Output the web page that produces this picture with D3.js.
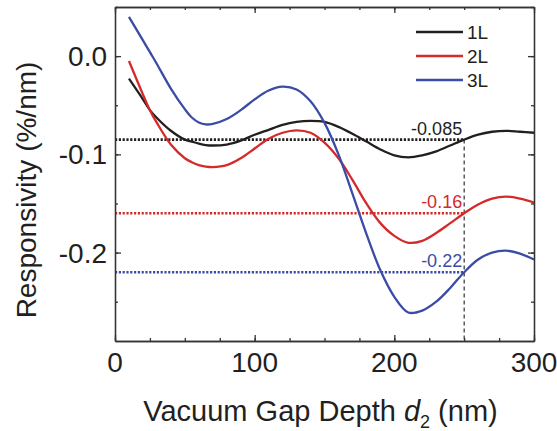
<!DOCTYPE html>
<meta charset="utf-8">
<style>
body { margin: 0; background: #fff; }
text { font-family: 'Liberation Sans', Arial, sans-serif; fill: #231f20; }
.axis path, .axis line { stroke: #333; stroke-width: 1.3; }
</style>
<div class="chart"></div>
<script src="https://d3js.org/d3.v7.min.js"></script>
<script>
// vacuum gap depth (nm) and responsivity (%/nm)
var depth = [10, 20, 25, 30, 40, 50, 55, 60, 65, 70, 80, 90, 100, 110, 120, 130, 140, 150, 160, 170, 180, 190, 200, 210, 220, 230, 240, 250, 260, 270, 280, 290, 300];
var resp1L = [-0.023, -0.044, -0.055, -0.063, -0.076, -0.085, -0.087, -0.089, -0.0905, -0.091, -0.090, -0.086, -0.080, -0.075, -0.070, -0.067, -0.066, -0.067, -0.072, -0.079, -0.087, -0.095, -0.101, -0.103, -0.101, -0.097, -0.091, -0.085, -0.080, -0.077, -0.076, -0.077, -0.078];
var resp2L = [-0.005, -0.039, -0.055, -0.068, -0.090, -0.104, -0.108, -0.111, -0.1125, -0.113, -0.111, -0.104, -0.094, -0.084, -0.078, -0.0755, -0.078, -0.088, -0.104, -0.126, -0.150, -0.170, -0.183, -0.190, -0.188, -0.180, -0.170, -0.160, -0.151, -0.145, -0.143, -0.145, -0.149];
var resp3L = [0.040, 0.016, 0.004, -0.008, -0.033, -0.054, -0.0625, -0.0675, -0.0695, -0.069, -0.064, -0.055, -0.044, -0.035, -0.031, -0.034, -0.046, -0.068, -0.100, -0.140, -0.181, -0.218, -0.245, -0.261, -0.259, -0.250, -0.236, -0.220, -0.207, -0.200, -0.198, -0.201, -0.207];

var seriesNames = ["1L", "2L", "3L"];
var seriesColors = ["#231f20", "#d42a2a", "#3a4ca6"];
var refValues = [-0.085, -0.16, -0.22];
var refLabels = ["-0.085", "-0.16", "-0.22"];
var refDepth = 250;

var xTicks = [0, 100, 200, 300];
var yTicks = [0.0, -0.1, -0.2];
var yTickLabels = ["0.0", "-0.1", "-0.2"];

var width = 557, height = 431;
var margin = { top: 7, right: 23, bottom: 90, left: 115 };

var x = d3.scaleLinear().domain([0, 300]).range([margin.left, width - margin.right]);
var y = d3.scaleLinear().domain([-0.29, 0.05]).range([height - margin.bottom, margin.top]);

var svg = d3.select(".chart").append("svg")
    .attr("width", width)
    .attr("height", height);

var series = [resp1L, resp2L, resp3L].map(function (vals, i) {
    return { name: seriesNames[i], color: seriesColors[i], ref: refValues[i], label: refLabels[i],
             points: depth.map(function (d, j) { return [d, vals[j]]; }) };
});

// reference dotted lines and labels
series.forEach(function (s) {
    svg.append("line")
        .attr("x1", x(0)).attr("x2", x(refDepth))
        .attr("y1", y(s.ref)).attr("y2", y(s.ref))
        .attr("stroke", s.color)
        .attr("stroke-width", 2.6)
        .attr("stroke-dasharray", "2.2,1.6");
    svg.append("text")
        .attr("x", x(refDepth) - 2)
        .attr("y", y(s.ref) - 5)
        .attr("text-anchor", "end")
        .style("font-size", "18px")
        .style("fill", s.color)
        .text(s.label);
});

svg.append("line")
    .attr("x1", x(refDepth)).attr("x2", x(refDepth))
    .attr("y1", y(refValues[0])).attr("y2", y(-0.29))
    .attr("stroke", "#231f20")
    .attr("stroke-width", 1.1)
    .attr("stroke-dasharray", "4,3");

var line = d3.line()
    .x(function (d) { return x(d[0]); })
    .y(function (d) { return y(d[1]); })
    .curve(d3.curveCatmullRom.alpha(0.5));

svg.selectAll(".curve")
    .data(series)
    .enter()
    .append("path")
    .attr("class", "curve")
    .attr("fill", "none")
    .attr("stroke", function (d) { return d.color; })
    .attr("stroke-width", 2.3)
    .attr("d", function (d) { return line(d.points); });

// axes: ticks point inward on all four sides
var minorX = d3.range(0, 301, 25);
var minorY = d3.range(-0.25, 0.051, 0.05);

function drawAxis(axisFn, scale, pos, transform, cls) {
    svg.append("g").attr("class", "axis " + cls)
        .attr("transform", transform)
        .call(axisFn(scale).tickValues(pos.values).tickSizeInner(pos.size).tickSizeOuter(0).tickFormat(""));
}

var xb = "translate(0," + y(-0.29) + ")";
var xt = "translate(0," + y(0.05) + ")";
var yl = "translate(" + x(0) + ",0)";
var yr = "translate(" + x(300) + ",0)";

drawAxis(d3.axisBottom, x, { values: minorX, size: -3 }, xb, "xminor");
drawAxis(d3.axisBottom, x, { values: xTicks, size: -6 }, xb, "xmajor");
drawAxis(d3.axisTop, x, { values: minorX, size: -3 }, xt, "xminor");
drawAxis(d3.axisTop, x, { values: xTicks, size: -6 }, xt, "xmajor");
drawAxis(d3.axisLeft, y, { values: minorY, size: -3 }, yl, "yminor");
drawAxis(d3.axisLeft, y, { values: yTicks, size: -6 }, yl, "ymajor");
drawAxis(d3.axisRight, y, { values: minorY, size: -3 }, yr, "yminor");
drawAxis(d3.axisRight, y, { values: yTicks, size: -6 }, yr, "ymajor");

svg.selectAll(".axis text").remove();

svg.selectAll(".xlab")
    .data(xTicks)
    .enter()
    .append("text")
    .attr("x", function (d) { return x(d); })
    .attr("y", y(-0.29) + 31)
    .attr("text-anchor", "middle")
    .style("font-size", "28px")
    .text(function (d) { return d; });

svg.selectAll(".ylab")
    .data(yTicks)
    .enter()
    .append("text")
    .attr("x", x(0) - 8)
    .attr("y", function (d) { return y(d); })
    .attr("dy", "0.36em")
    .attr("text-anchor", "end")
    .style("font-size", "28px")
    .text(function (d, i) { return yTickLabels[i]; });

var xTitle = svg.append("text")
    .attr("x", (x(0) + x(300)) / 2 - 4)
    .attr("y", 421)
    .attr("text-anchor", "middle")
    .style("font-size", "29px");
xTitle.append("tspan").text("Vacuum Gap Depth ");
xTitle.append("tspan").style("font-style", "italic").text("d");
xTitle.append("tspan").attr("dy", 7).style("font-size", "18px").text("2");
xTitle.append("tspan").attr("dy", -7).text(" (nm)");

svg.append("text")
    .attr("transform", "translate(36," + 190 + ") rotate(-90)")
    .attr("text-anchor", "middle")
    .style("font-size", "28px")
    .text("Responsivity (%/nm)");

// legend
var legend = svg.selectAll(".legendRow")
    .data(series)
    .enter()
    .append("g")
    .attr("class", "legendRow")
    .attr("transform", function (d, i) { return "translate(416," + (32 + i * 24) + ")"; });

legend.append("line")
    .attr("x1", 0).attr("x2", 47)
    .attr("stroke", function (d) { return d.color; })
    .attr("stroke-width", 2.3);

legend.append("text")
    .attr("x", 51)
    .attr("dy", "0.36em")
    .style("font-size", "19px")
    .text(function (d) { return d.name; });
</script>
